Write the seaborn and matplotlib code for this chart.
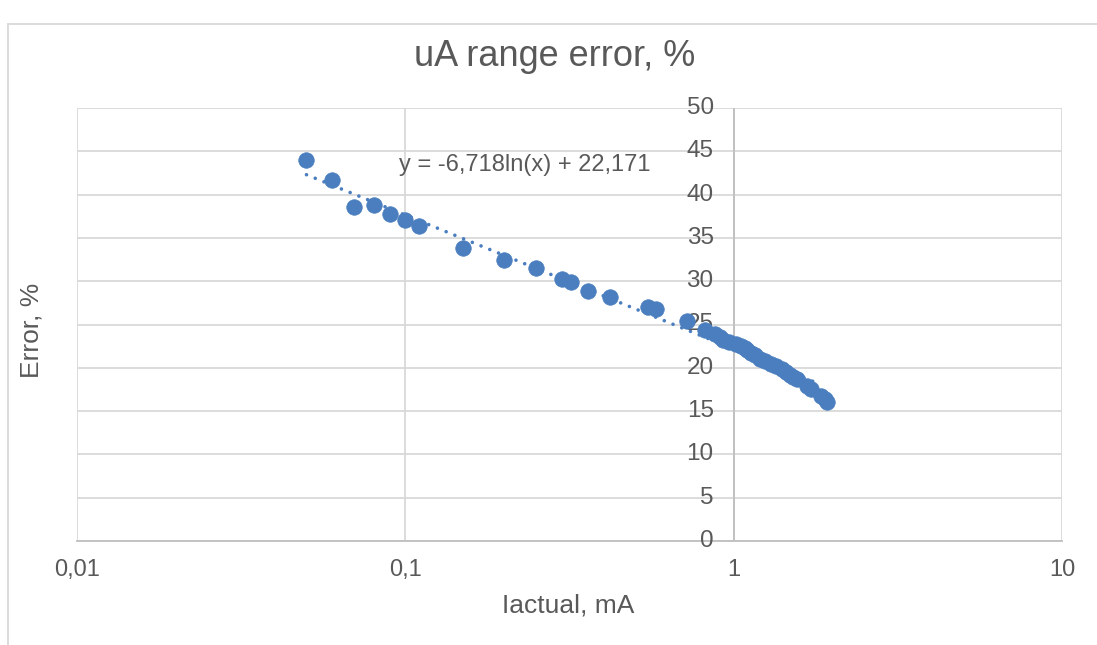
import numpy as np
import pandas as pd
import matplotlib
matplotlib.use("Agg")
import matplotlib.pyplot as plt
from matplotlib.lines import Line2D
import matplotlib.transforms as mtrans
import seaborn as sns

# ---- data ----
i_actual_mA = [0.05, 0.06, 0.07, 0.08, 0.09, 0.10, 0.11, 0.15, 0.20, 0.25,
               0.30, 0.32, 0.36, 0.42, 0.55, 0.58, 0.72,
               0.82, 0.88, 0.91, 0.93, 0.97, 1.02, 1.05, 1.08, 1.10, 1.13,
               1.16, 1.20, 1.25, 1.30, 1.35, 1.40, 1.44, 1.48, 1.52, 1.56,
               1.67, 1.72, 1.85, 1.90, 1.93]
error_pct = [44.0, 41.7, 38.6, 38.8, 37.8, 37.1, 36.4, 33.8, 32.4, 31.5,
             30.3, 29.9, 28.9, 28.2, 27.0, 26.8, 25.4,
             24.4, 23.9, 23.6, 23.2, 23.0, 22.7, 22.5, 22.3, 22.0, 21.7,
             21.5, 21.0, 20.8, 20.4, 20.2, 19.9, 19.5, 19.2, 18.9, 18.7,
             17.9, 17.6, 16.8, 16.4, 16.0]

trend_slope = -6.718
trend_intercept = 22.171
trend_label = "y = -6,718ln(x) + 22,171"

x_ticks = [0.01, 0.1, 1, 10]
x_tick_labels = ["0,01", "0,1", "1", "10"]
y_ticks = [0, 5, 10, 15, 20, 25, 30, 35, 40, 45, 50]

title = "uA range error, %"
x_title = "Iactual, mA"
y_title = "Error, %"

# ---- style ----
sns.set_theme(style="white")
plt.rcParams['font.family'] = ['Liberation Sans', 'DejaVu Sans']

text_c = "#595959"
grid_c = "#D9D9D9"
axis_c = "#BFBFBF"
blue = "#4A7EBF"

df = pd.DataFrame({"x": i_actual_mA, "y": error_pct})

fig = plt.figure(figsize=(10.97, 6.45), dpi=100)
ax = fig.add_axes([77/1097, 1-541/645, (1062-77)/1097, (541-108)/645])

ax.set_xscale("log")
ax.set_xlim(0.01, 10)
ax.set_ylim(0, 50)

ax.set_xticks(x_ticks)
ax.set_xticklabels(x_tick_labels)
ax.minorticks_off()
ax.set_yticks(y_ticks)
ax.set_yticklabels([])
ax.grid(True, color=grid_c, linewidth=1.3, zorder=0)
ax.set_axisbelow(True)

for s in ["top", "right", "left"]:
    ax.spines[s].set_visible(False)
ax.spines["bottom"].set_color(axis_c)
ax.spines["bottom"].set_linewidth(1.3)
# vertical axis crossing at x = 1
ax.axvline(1, color=axis_c, linewidth=1.3, zorder=1)

ax.tick_params(axis="x", length=0, pad=13, labelsize=17, labelcolor=text_c)
ax.tick_params(axis="y", length=0, pad=0)

# y tick labels next to the vertical axis at x = 1
off = mtrans.offset_copy(ax.transData, fig=fig, x=-20, y=0, units="dots")
for v in y_ticks:
    ax.text(1, v, str(v), transform=off, ha="right", va="center",
            fontsize=17.5, color=text_c, clip_on=False)

# logarithmic trendline
xs = np.geomspace(min(i_actual_mA), 1.84, 200)
ys = trend_slope * np.log(xs) + trend_intercept
ax.plot(xs, ys, color=blue, linewidth=2.6, linestyle=(0, (0.01, 2.6)),
        dash_capstyle="round", solid_capstyle="round", zorder=2)

sns.scatterplot(data=df, x="x", y="y", ax=ax, color=blue, s=125,
                edgecolor=blue, linewidth=0.5, zorder=3, legend=False)

ax.set_xlabel("")
ax.set_ylabel("")

fig.text(525/1097, 1-165/645, trend_label, ha="center", va="center",
         fontsize=17, color=text_c)
fig.text(555/1097, 1-56/645, title, ha="center", va="center",
         fontsize=26, color=text_c)
fig.text(568/1097, 1-606/645, x_title, ha="center", va="center",
         fontsize=19, color=text_c)
fig.text(32/1097, 1-330/645, y_title, ha="center", va="center",
         fontsize=19, color=text_c, rotation=90)

# chart area border
fig.add_artist(Line2D([8/1097, 8/1097], [0, 1-24/645], color=grid_c,
                      linewidth=1.3, transform=fig.transFigure))
fig.add_artist(Line2D([8/1097, 1], [1-24/645, 1-24/645], color=grid_c,
                      linewidth=1.3, transform=fig.transFigure))

fig.savefig("out.png", dpi=100, facecolor="white")
